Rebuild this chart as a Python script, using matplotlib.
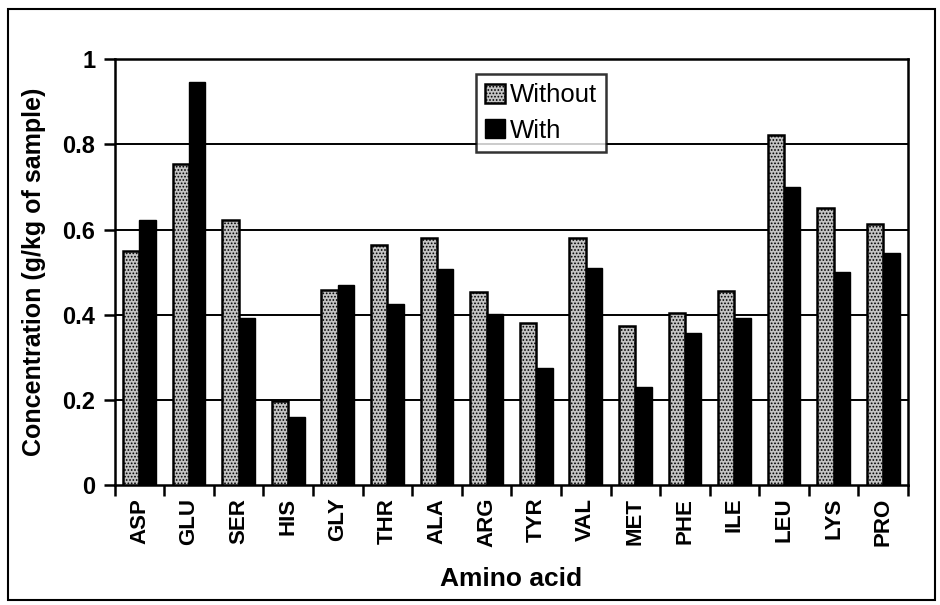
import numpy as np
import matplotlib
matplotlib.use("Agg")
import matplotlib.pyplot as plt
from matplotlib.patches import Rectangle

# amino acid concentrations (g/kg of sample)
amino_acids = ["ASP", "GLU", "SER", "HIS", "GLY", "THR", "ALA", "ARG",
               "TYR", "VAL", "MET", "PHE", "ILE", "LEU", "LYS", "PRO"]
without = [0.55, 0.753, 0.622, 0.198, 0.458, 0.563, 0.58, 0.454,
           0.381, 0.58, 0.373, 0.404, 0.456, 0.822, 0.65, 0.613]
with_ = [0.622, 0.946, 0.392, 0.16, 0.469, 0.425, 0.507, 0.401,
         0.275, 0.509, 0.231, 0.358, 0.393, 0.70, 0.50, 0.545]
y_ticks = [0, 0.2, 0.4, 0.6, 0.8, 1.0]
y_labels = ["0", "0.2", "0.4", "0.6", "0.8", "1"]

plt.rcParams['font.family'] = ['Liberation Sans', 'DejaVu Sans']
plt.rcParams['font.weight'] = 'bold'
plt.rcParams['hatch.linewidth'] = 0.8

fig = plt.figure(figsize=(9.4, 6.05), dpi=100)
ax = fig.add_axes([0.122, 0.198, 0.844, 0.704])

x = np.arange(len(amino_acids))
w = 0.33
ax.bar(x - w / 2, without, width=w, facecolor='#c4c4c4', edgecolor='black',
       hatch='.....', linewidth=1.8, label='Without', zorder=3)
ax.bar(x + w / 2, with_, width=w, facecolor='black', edgecolor='black',
       linewidth=1.0, label='With', zorder=3)

# horizontal grid
for yv in y_ticks[1:]:
    ax.axhline(yv, color='black', linewidth=1.4, zorder=1)

ax.set_xlim(-0.5, len(amino_acids) - 0.5)
ax.set_ylim(0, 1)
ax.set_yticks(y_ticks)
ax.set_yticklabels(y_labels, fontsize=17, fontweight='bold')
ax.set_xticks(x)
ax.set_xticklabels(amino_acids, rotation=90, fontsize=16, fontweight='bold')
ax.tick_params(axis='x', which='major', length=0, pad=9)
ax.set_xticks(np.arange(-0.5, len(amino_acids)), minor=True)
ax.tick_params(axis='x', which='minor', length=8, width=1.8, direction='out')
ax.tick_params(axis='y', length=8, width=1.8, direction='out', pad=6)
for s in ax.spines.values():
    s.set_linewidth(1.8)

ax.set_xlabel('Amino acid', fontsize=19, fontweight='bold', labelpad=14)
ax.set_ylabel('Concentration (g/kg of sample)', fontsize=18, fontweight='bold', labelpad=12)

leg = ax.legend(loc='upper left', bbox_to_anchor=(0.456, 0.965), fontsize=18.5,
                frameon=True, fancybox=False, edgecolor='black',
                handlelength=0.75, handleheight=0.75, handletextpad=0.2,
                borderpad=0.35, labelspacing=0.45, borderaxespad=0)
leg.get_frame().set_linewidth(1.8)
for t in leg.get_texts():
    t.set_fontweight('normal')

# outer frame round the whole chart
fig.patches.append(Rectangle((0.009, 0.008), 0.986, 0.977, transform=fig.transFigure,
                             fill=False, edgecolor='black', linewidth=1.5))

fig.savefig('out.png', dpi=100)
